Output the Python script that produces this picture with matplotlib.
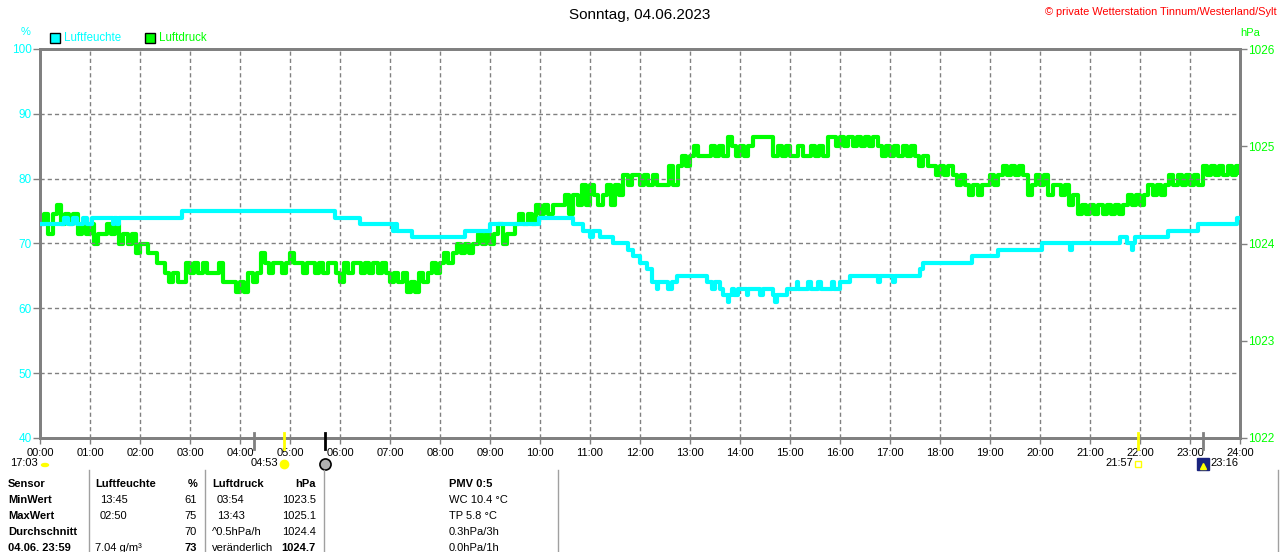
import numpy as np
import matplotlib
matplotlib.use("Agg")
import matplotlib.pyplot as plt
from matplotlib.patches import Rectangle, Circle

plt.rcParams["font.family"] = ["Liberation Sans", "DejaVu Sans"]

title = "Sonntag, 04.06.2023"
copyright_text = "© private Wetterstation Tinnum/Westerland/Sylt"
hour_labels = [f"{h:02d}:00" for h in range(25)]
hum_ticks = [40, 50, 60, 70, 80, 90, 100]
press_ticks = [1022, 1023, 1024, 1025, 1026]

# Luftfeuchte (%): Zeitpunkt der Aenderung -> neuer Wert
hum_times = ["00:00", "00:29", "00:33", "00:40", "00:44", "00:52", "00:56", "01:02", "01:27", "01:29",
             "01:32", "01:35", "02:50", "05:54", "06:24", "07:03", "07:06", "07:08", "07:26", "08:30",
             "09:00", "09:59", "10:40", "10:52", "11:00", "11:03", "11:12", "11:28", "11:46", "11:52",
             "12:00", "12:08", "12:14", "12:20", "12:22", "12:34", "12:38", "12:44", "13:20", "13:26",
             "13:30", "13:36", "13:40", "13:45", "13:47", "13:50", "13:53", "13:57", "14:08", "14:10",
             "14:24", "14:27", "14:40", "14:42", "14:44", "14:56", "15:08", "15:10", "15:22", "15:25",
             "15:34", "15:37", "15:50", "15:53", "16:00", "16:12", "16:46", "16:48", "17:04", "17:06",
             "17:36", "17:40", "18:39", "19:10", "20:02", "20:36", "20:38", "21:36", "21:44", "21:50",
             "21:52", "21:54", "22:34", "23:10", "23:56"]
hum_vals = [73, 74, 73, 74, 73, 74, 73, 74, 73, 74,
            73, 74, 75, 74, 73, 72, 73, 72, 71, 72,
            73, 74, 73, 72, 71, 72, 71, 70, 69, 68,
            67, 66, 64, 63, 64, 63, 64, 65, 64, 63,
            64, 63, 62, 61, 62, 63, 62, 63, 62, 63,
            62, 63, 62, 61, 62, 63, 64, 63, 64, 63,
            64, 63, 64, 63, 64, 65, 64, 65, 64, 65,
            66, 67, 68, 69, 70, 69, 70, 71, 70, 69,
            70, 71, 72, 73, 74]

# Luftdruck (hPa) alle 5 Minuten, 00:00 ... 24:00
press_vals = [
    1024.2, 1024.3, 1024.1, 1024.3, 1024.4, 1024.2, 1024.3, 1024.2, 1024.3, 1024.1, 1024.2, 1024.1,
    1024.2, 1024.0, 1024.1, 1024.1, 1024.2, 1024.1, 1024.2, 1024.0, 1024.1, 1024.0, 1024.1, 1023.9,
    1024.0, 1024.0, 1023.9, 1023.9, 1023.8, 1023.8, 1023.7, 1023.6, 1023.7, 1023.6, 1023.6, 1023.8,
    1023.7, 1023.8, 1023.7, 1023.8, 1023.7, 1023.7, 1023.7, 1023.8, 1023.6, 1023.6, 1023.6, 1023.5,
    1023.6, 1023.5, 1023.7, 1023.6, 1023.7, 1023.9, 1023.8, 1023.7, 1023.8, 1023.8, 1023.7, 1023.8,
    1023.9, 1023.8, 1023.8, 1023.7, 1023.8, 1023.8, 1023.7, 1023.8, 1023.7, 1023.8, 1023.8, 1023.7,
    1023.6, 1023.8, 1023.7, 1023.8, 1023.8, 1023.7, 1023.8, 1023.7, 1023.8, 1023.7, 1023.8, 1023.7,
    1023.6, 1023.7, 1023.6, 1023.7, 1023.5, 1023.6, 1023.5, 1023.7, 1023.6, 1023.7, 1023.8, 1023.7,
    1023.8, 1023.9, 1023.8, 1023.9, 1024.0, 1023.9, 1024.0, 1023.9, 1024.0, 1024.1, 1024.0, 1024.1,
    1024.0, 1024.1, 1024.2, 1024.0, 1024.1, 1024.1, 1024.2, 1024.3, 1024.2, 1024.3, 1024.2, 1024.4,
    1024.3, 1024.4, 1024.3, 1024.4, 1024.4, 1024.4, 1024.5, 1024.3, 1024.5, 1024.4, 1024.6, 1024.4,
    1024.6, 1024.5, 1024.4, 1024.5, 1024.6, 1024.4, 1024.6, 1024.5, 1024.7, 1024.6, 1024.7, 1024.7,
    1024.6, 1024.7, 1024.6, 1024.7, 1024.6, 1024.6, 1024.6, 1024.8, 1024.6, 1024.8, 1024.9, 1024.8,
    1024.9, 1025.0, 1024.9, 1024.9, 1024.9, 1025.0, 1024.9, 1025.0, 1024.9, 1025.1, 1025.0, 1024.9,
    1025.0, 1024.9, 1025.0, 1025.1, 1025.1, 1025.1, 1025.1, 1025.1, 1024.9, 1025.0, 1024.9, 1025.0,
    1024.9, 1024.9, 1025.0, 1024.9, 1024.9, 1025.0, 1024.9, 1025.0, 1024.9, 1025.1, 1025.1, 1025.0,
    1025.1, 1025.0, 1025.1, 1025.0, 1025.1, 1025.0, 1025.1, 1025.0, 1025.1, 1025.0, 1024.9, 1025.0,
    1024.9, 1025.0, 1024.9, 1025.0, 1024.9, 1025.0, 1024.9, 1024.8, 1024.9, 1024.8, 1024.8, 1024.7,
    1024.8, 1024.7, 1024.8, 1024.7, 1024.6, 1024.7, 1024.6, 1024.5, 1024.6, 1024.5, 1024.6, 1024.6,
    1024.7, 1024.6, 1024.7, 1024.8, 1024.7, 1024.8, 1024.7, 1024.8, 1024.7, 1024.5, 1024.6, 1024.7,
    1024.6, 1024.7, 1024.5, 1024.6, 1024.6, 1024.5, 1024.6, 1024.4, 1024.5, 1024.3, 1024.4, 1024.3,
    1024.4, 1024.3, 1024.4, 1024.3, 1024.4, 1024.3, 1024.4, 1024.3, 1024.4, 1024.5, 1024.4, 1024.5,
    1024.4, 1024.5, 1024.6, 1024.5, 1024.6, 1024.5, 1024.6, 1024.7, 1024.6, 1024.7, 1024.6, 1024.7,
    1024.6, 1024.7, 1024.6, 1024.8, 1024.7, 1024.8, 1024.7, 1024.8, 1024.7, 1024.8, 1024.7, 1024.8,
    1024.7,
]

# Sonne / Mond Ereignisse
event_times = ["04:17", "04:53", "05:42", "21:57", "23:16"]
event_colors = ["#808080", "#ffff00", "#000000", "#ffff00", "#808080"]

# Tabelle unten
table_rows = [
    ["Sensor", "Luftfeuchte", "%", "Luftdruck", "hPa", "PMV 0:5"],
    ["MinWert", "13:45", "61", "03:54", "1023.5", "WC 10.4 °C"],
    ["MaxWert", "02:50", "75", "13:43", "1025.1", "TP 5.8 °C"],
    ["Durchschnitt", "", "70", "^0.5hPa/h", "1024.4", "0.3hPa/3h"],
    ["04.06. 23:59", "7.04 g/m³", "73", "veränderlich", "1024.7", "0.0hPa/1h"],
]

CYAN = "#00ffff"
GREEN = "#00ff00"
GRAY = "#808080"
W, H = 1280, 552


def hours(s):
    h, m = s.split(":")
    return int(h) + int(m) / 60


def fx(x):
    return x / W


def fy(y):
    return 1 - y / H


fig = plt.figure(figsize=(12.8, 5.52), dpi=100)
ax = fig.add_axes([fx(40), fy(438), 1200 / W, 389 / H])
ax2 = ax.twinx()

hx = [hours(t) for t in hum_times] + [24]
hv = hum_vals + [hum_vals[-1]]
ax.step(hx, hv, where="post", color=CYAN, lw=3, solid_capstyle="butt", zorder=3)

px = np.arange(len(press_vals)) * 5 / 60
ax2.step(px, press_vals, where="post", color=GREEN, lw=3, solid_capstyle="butt")

ax.set_zorder(ax2.get_zorder() + 1)
ax.patch.set_visible(False)

ax.set_xlim(0, 24)
ax.set_ylim(40, 100)
ax2.set_ylim(1022, 1026)
ax.set_xticks(range(25))
ax.set_xticklabels(hour_labels)
ax.set_yticks(hum_ticks)
ax2.set_yticks(press_ticks)

for h in range(1, 24):
    ax.axvline(h, color=GRAY, lw=1, ls=(0, (3, 2.2)), zorder=1)
for v in hum_ticks[1:-1]:
    ax.axhline(v, color=GRAY, lw=1, ls=(0, (3, 2.2)), zorder=1)

for a in (ax, ax2):
    for s in a.spines.values():
        s.set_color(GRAY)
        s.set_linewidth(2)
ax.tick_params(axis="x", length=4, width=1, color=GRAY, labelsize=8, pad=3, labelcolor="black")
ax.tick_params(axis="y", length=5, width=1, color=GRAY, labelsize=8.5, pad=1, labelcolor=CYAN)
ax2.tick_params(axis="y", length=5, width=1, color=GRAY, labelsize=8.5, pad=1, labelcolor=GREEN)

# Ereignis-Striche an der Zeitachse
xt = ax.get_xaxis_transform()
for t, c in zip(event_times, event_colors):
    ax.plot([hours(t)] * 2, [0.012, -0.028], color=c, lw=2, transform=xt, clip_on=False, zorder=5)

# Texte oben
fig.text(0.5, fy(15), title, ha="center", va="center", fontsize=11)
fig.text(fx(1277), fy(12), copyright_text, ha="right", va="center", fontsize=7.9, color="red")
fig.text(fx(26), fy(32), "%", ha="center", va="center", fontsize=8, color=CYAN)
fig.text(fx(1250), fy(33), "hPa", ha="center", va="center", fontsize=8, color=GREEN)

# Legende
for x0, col, name in [(50, CYAN, "Luftfeuchte"), (145, GREEN, "Luftdruck")]:
    fig.add_artist(Rectangle((fx(x0), fy(43)), 10 / W, 10 / H, transform=fig.transFigure,
                             facecolor=col, edgecolor="black", lw=1))
    fig.text(fx(x0 + 14), fy(38), name, ha="left", va="center", fontsize=8.3, color=col)

# Zweite Zeile unter der Zeitachse
row2 = fy(463)
fig.text(fx(10), row2, "17:03", ha="left", va="center", fontsize=8)
fig.add_artist(Circle((fx(45), fy(465)), 3.5 / W, transform=fig.transFigure, color="#ffff00"))
x_sun = 40 + hours(event_times[1]) * 50
fig.text(fx(x_sun - 6), row2, event_times[1], ha="right", va="center", fontsize=8)
ax.plot([hours(event_times[1])], [-0.067], marker="o", ms=6, color="#ffff00", transform=xt, clip_on=False)
ax.plot([hours(event_times[2])], [-0.067], marker="o", ms=8, mfc="#b0b0b0", mec="black", mew=1.2,
        transform=xt, clip_on=False)
x_set = 40 + hours(event_times[3]) * 50
fig.text(fx(x_set - 4), row2, event_times[3], ha="right", va="center", fontsize=8)
ax.plot([hours(event_times[3])], [-0.067], marker="s", ms=4, mfc="none", mec="#ffff00", mew=1,
        transform=xt, clip_on=False)
x_moon = 40 + hours(event_times[4]) * 50
ax.plot([hours(event_times[4])], [-0.067], marker="s", ms=8, mfc="#1a237e", mec="#1a237e",
        transform=xt, clip_on=False)
ax.plot([hours(event_times[4])], [-0.072], marker="^", ms=4, color="#ffff00", transform=xt, clip_on=False)
fig.text(fx(x_moon + 7), row2, event_times[4], ha="left", va="center", fontsize=8)

# Tabelle
for xs in [88.5, 205, 323.5, 558, 1278]:
    fig.add_artist(plt.Line2D([fx(xs), fx(xs)], [fy(470), 0], color="#a0a0a0", lw=1))

cols = [(8, "left"), (95, "left"), (197, "right"), (212, "left"), (316, "right"), (449, "left")]
row_y = [484, 500, 516, 532, 548]
for r, (row, y) in enumerate(zip(table_rows, row_y)):
    for c, (txt, (x, ha)) in enumerate(zip(row, cols)):
        bold = r == 0 or c == 0 or (r == 4 and c in (2, 4))
        xx = x
        if r in (1, 2) and c in (1, 3):
            xx = x + 5
        fig.text(fx(xx), fy(y), txt, ha=ha, va="center", fontsize=8,
                 fontweight="bold" if bold else "normal")

fig.savefig("out.png", dpi=100)
